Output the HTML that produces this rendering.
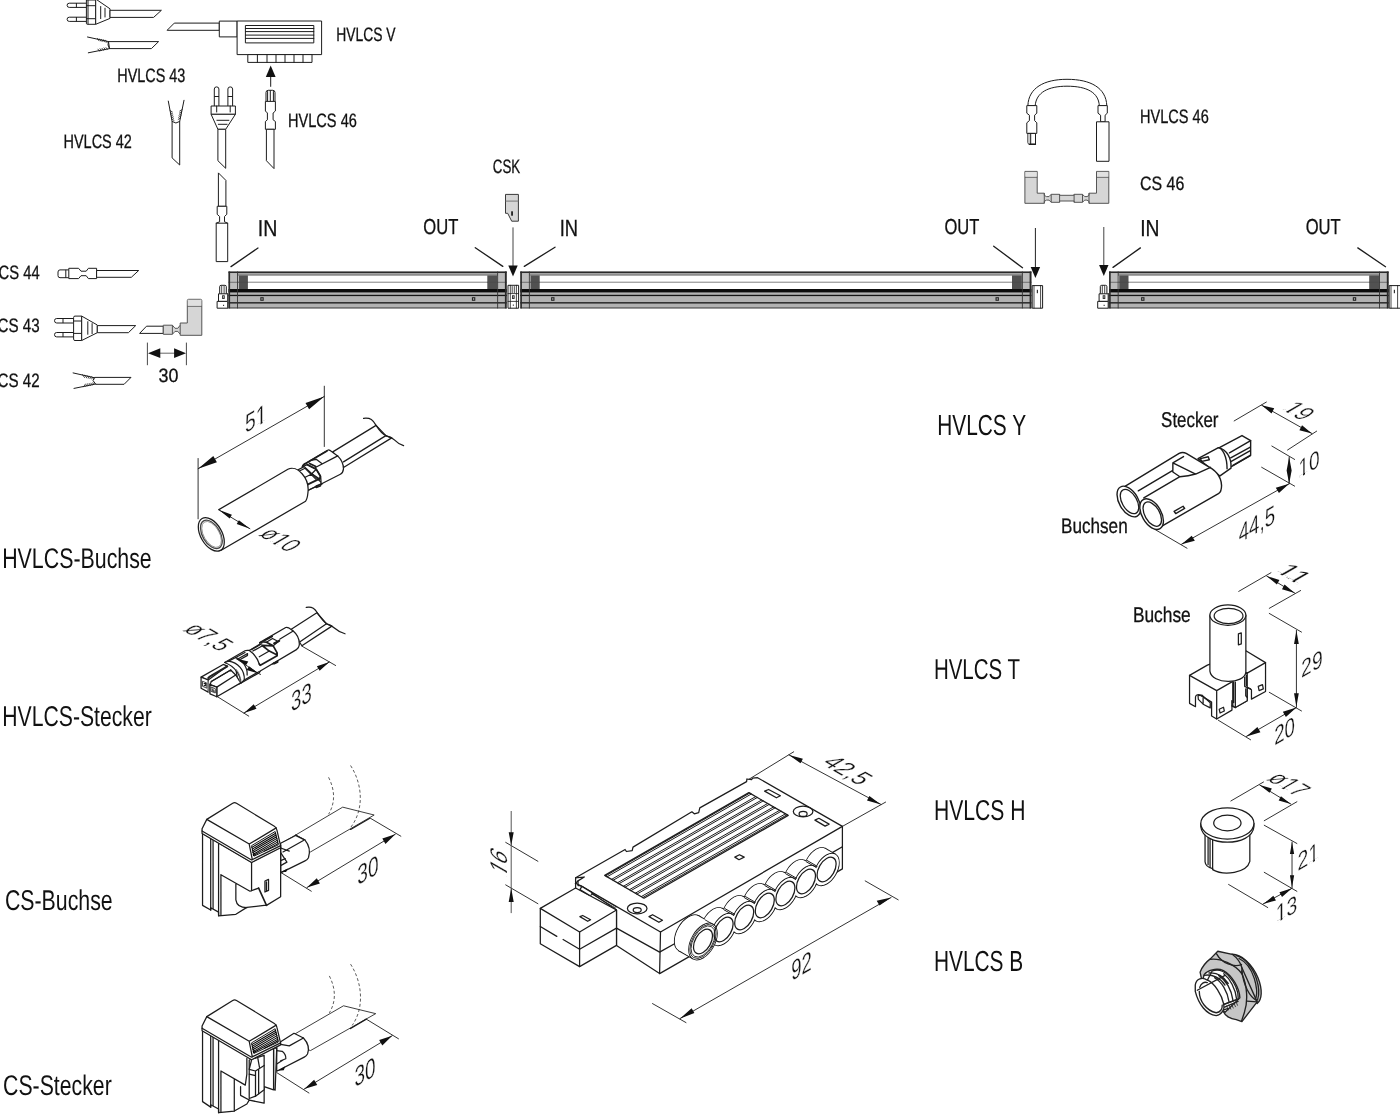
<!DOCTYPE html>
<html lang="de"><head><meta charset="utf-8"><title>HVLCS / CS Verbindungssystem</title>
<style>
html,body{margin:0;padding:0;background:#fff;}
body{width:1400px;height:1120px;overflow:hidden;font-family:"Liberation Sans",sans-serif;}
svg{display:block;filter:grayscale(1);}
.l{fill:none;stroke:#1c1c1c;stroke-width:1;stroke-linecap:round;stroke-linejoin:round;}
.w{fill:#fff;stroke:#1c1c1c;stroke-width:1;stroke-linejoin:round;}
.g{fill:#d6d6d6;stroke:#2a2a2a;stroke-width:1;stroke-linejoin:round;}
svg text{text-rendering:geometricPrecision;}
.t{font-family:"Liberation Sans",sans-serif;fill:#111;stroke:#111;stroke-width:.3;}
.tb{font-family:"Liberation Sans",sans-serif;fill:#111;}
.td{font-family:"Liberation Sans",sans-serif;fill:#111;stroke:#fff;stroke-width:.3;}
.k{fill:#111;stroke:none;}
#hvlcs-buchse .l,#hvlcs-buchse .w,#hvlcs-stecker .l,#hvlcs-stecker .w,#cs-buchse .l,#cs-buchse .w,#cs-stecker .l,#cs-stecker .w,#box .l,#box .w,#hvlcs-t .l,#hvlcs-t .w,#hvlcs-h .l,#hvlcs-h .w{stroke-width:1.25;}
#hvlcs-y .l,#hvlcs-y .w{stroke-width:1.4;}
.d{fill:none;stroke:#333;stroke-width:0.8;stroke-dasharray:3 2.2;}
</style></head><body>
<svg width="1400" height="1120" viewBox="0 0 1400 1120">
<g id="lum">
<rect x="228.5" y="271.5" width="278.2" height="36.89999999999998" fill="#b2b2b2"/>
<rect x="237.5" y="275.4" width="260.2" height="13.8" fill="#fff"/>
<rect x="228.5" y="271.5" width="278.2" height="1.6" fill="#2a2a2a"/>
<rect x="237.5" y="274.6" width="260.2" height="0.8" fill="#555"/>
<rect x="228.5" y="281.7" width="278.2" height="1.0" fill="#808080"/>
<rect x="228.5" y="289.0" width="278.2" height="3.4" fill="#0c0c0c"/>
<rect x="228.5" y="294.8" width="278.2" height="1.3" fill="#151515"/>
<rect x="228.5" y="302.2" width="278.2" height="1.3" fill="#151515"/>
<rect x="228.5" y="307.5" width="278.2" height="0.9" fill="#333"/>
<rect x="228.5" y="273.1" width="9.0" height="15.9" fill="#bcbcbc"/>
<rect x="228.5" y="281.8" width="9.0" height="0.9" fill="#666"/>
<rect x="497.7" y="273.1" width="9.0" height="15.9" fill="#bcbcbc"/>
<rect x="497.7" y="281.8" width="9.0" height="0.9" fill="#666"/>
<rect x="237.1" y="271.5" width="0.9" height="36.89999999999998" fill="#333"/>
<rect x="497.2" y="271.5" width="0.9" height="36.89999999999998" fill="#333"/>
<rect x="228.5" y="271.5" width="1.6" height="36.89999999999998" fill="#2a2a2a"/>
<rect x="504.9" y="271.5" width="1.8" height="36.89999999999998" fill="#2a2a2a"/>
<rect x="238.6" y="275.4" width="9.3" height="13.6" fill="#515151"/>
<rect x="487.3" y="275.4" width="9.9" height="13.6" fill="#515151"/>
<rect x="238.6" y="281.8" width="9.3" height="0.9" fill="#4a4a4a"/>
<rect x="487.3" y="281.8" width="9.3" height="0.9" fill="#4a4a4a"/>
<rect x="260.3" y="297.2" width="3.4" height="3.6" fill="#222"/>
<rect x="261.4" y="298.2" width="1.2" height="1.6" fill="#aaa"/>
<rect x="471.90000000000003" y="297.2" width="3.4" height="3.6" fill="#222"/>
<rect x="473.0" y="298.2" width="1.2" height="1.6" fill="#aaa"/>
<rect x="520.3" y="271.5" width="511.10000000000014" height="36.89999999999998" fill="#b2b2b2"/>
<rect x="529.3" y="275.4" width="493.10000000000014" height="13.8" fill="#fff"/>
<rect x="520.3" y="271.5" width="511.10000000000014" height="1.6" fill="#2a2a2a"/>
<rect x="529.3" y="274.6" width="493.10000000000014" height="0.8" fill="#555"/>
<rect x="520.3" y="281.7" width="511.10000000000014" height="1.0" fill="#808080"/>
<rect x="520.3" y="289.0" width="511.10000000000014" height="3.4" fill="#0c0c0c"/>
<rect x="520.3" y="294.8" width="511.10000000000014" height="1.3" fill="#151515"/>
<rect x="520.3" y="302.2" width="511.10000000000014" height="1.3" fill="#151515"/>
<rect x="520.3" y="307.5" width="511.10000000000014" height="0.9" fill="#333"/>
<rect x="520.3" y="273.1" width="9.0" height="15.9" fill="#bcbcbc"/>
<rect x="520.3" y="281.8" width="9.0" height="0.9" fill="#666"/>
<rect x="1022.4000000000001" y="273.1" width="9.0" height="15.9" fill="#bcbcbc"/>
<rect x="1022.4000000000001" y="281.8" width="9.0" height="0.9" fill="#666"/>
<rect x="528.9" y="271.5" width="0.9" height="36.89999999999998" fill="#333"/>
<rect x="1021.9000000000001" y="271.5" width="0.9" height="36.89999999999998" fill="#333"/>
<rect x="520.3" y="271.5" width="1.6" height="36.89999999999998" fill="#2a2a2a"/>
<rect x="1029.6000000000001" y="271.5" width="1.8" height="36.89999999999998" fill="#2a2a2a"/>
<rect x="530.4" y="275.4" width="9.3" height="13.6" fill="#515151"/>
<rect x="1012.0000000000001" y="275.4" width="9.9" height="13.6" fill="#515151"/>
<rect x="530.4" y="281.8" width="9.3" height="0.9" fill="#4a4a4a"/>
<rect x="1012.0000000000001" y="281.8" width="9.3" height="0.9" fill="#4a4a4a"/>
<rect x="551.0999999999999" y="297.2" width="3.4" height="3.6" fill="#222"/>
<rect x="552.1999999999999" y="298.2" width="1.2" height="1.6" fill="#aaa"/>
<rect x="995.5" y="297.2" width="3.4" height="3.6" fill="#222"/>
<rect x="996.6" y="298.2" width="1.2" height="1.6" fill="#aaa"/>
<rect x="1109.1" y="271.5" width="279.5" height="36.89999999999998" fill="#b2b2b2"/>
<rect x="1118.1" y="275.4" width="261.5" height="13.8" fill="#fff"/>
<rect x="1109.1" y="271.5" width="279.5" height="1.6" fill="#2a2a2a"/>
<rect x="1118.1" y="274.6" width="261.5" height="0.8" fill="#555"/>
<rect x="1109.1" y="281.7" width="279.5" height="1.0" fill="#808080"/>
<rect x="1109.1" y="289.0" width="279.5" height="3.4" fill="#0c0c0c"/>
<rect x="1109.1" y="294.8" width="279.5" height="1.3" fill="#151515"/>
<rect x="1109.1" y="302.2" width="279.5" height="1.3" fill="#151515"/>
<rect x="1109.1" y="307.5" width="279.5" height="0.9" fill="#333"/>
<rect x="1109.1" y="273.1" width="9.0" height="15.9" fill="#bcbcbc"/>
<rect x="1109.1" y="281.8" width="9.0" height="0.9" fill="#666"/>
<rect x="1379.6" y="273.1" width="9.0" height="15.9" fill="#bcbcbc"/>
<rect x="1379.6" y="281.8" width="9.0" height="0.9" fill="#666"/>
<rect x="1117.6999999999998" y="271.5" width="0.9" height="36.89999999999998" fill="#333"/>
<rect x="1379.1" y="271.5" width="0.9" height="36.89999999999998" fill="#333"/>
<rect x="1109.1" y="271.5" width="1.6" height="36.89999999999998" fill="#2a2a2a"/>
<rect x="1386.8" y="271.5" width="1.8" height="36.89999999999998" fill="#2a2a2a"/>
<rect x="1119.1999999999998" y="275.4" width="9.3" height="13.6" fill="#515151"/>
<rect x="1369.1999999999998" y="275.4" width="9.9" height="13.6" fill="#515151"/>
<rect x="1119.1999999999998" y="281.8" width="9.3" height="0.9" fill="#4a4a4a"/>
<rect x="1369.1999999999998" y="281.8" width="9.3" height="0.9" fill="#4a4a4a"/>
<rect x="1141.1" y="297.2" width="3.4" height="3.6" fill="#222"/>
<rect x="1142.2" y="298.2" width="1.2" height="1.6" fill="#aaa"/>
<rect x="1352.8" y="297.2" width="3.4" height="3.6" fill="#222"/>
<rect x="1353.9" y="298.2" width="1.2" height="1.6" fill="#aaa"/>
<path class="w" d="M219.70000000000002 293.8V286.6Q219.70000000000002 285.3 221.10000000000002 285.3H224.9Q226.3 285.3 226.3 286.6V293.8"/>
<path class="l" style="stroke-width:.8" d="M221.70000000000002 286V293.5M224.10000000000002 286V293.5"/>
<rect class="w" x="218.5" y="293.8" width="9.3" height="7.6"/>
<rect class="w" x="217.10000000000002" y="301.4" width="10.7" height="6.8"/>
<rect x="222.10000000000002" y="295.3" width="2.6" height="3.6" fill="#222"/><rect x="222.9" y="296.2" width="1" height="1.6" fill="#ccc"/>
<rect x="223.0" y="304.8" width="1.1" height="1.1" fill="#222"/>
<rect x="227.10000000000002" y="293" width="1.2" height="15.4" fill="#444"/>
<path class="w" d="M1100.3000000000002 293.8V286.6Q1100.3000000000002 285.3 1101.7 285.3H1105.5Q1106.9 285.3 1106.9 286.6V293.8"/>
<path class="l" style="stroke-width:.8" d="M1102.3000000000002 286V293.5M1104.7 286V293.5"/>
<rect class="w" x="1099.1000000000001" y="293.8" width="9.3" height="7.6"/>
<rect class="w" x="1097.7" y="301.4" width="10.7" height="6.8"/>
<rect x="1102.7" y="295.3" width="2.6" height="3.6" fill="#222"/><rect x="1103.5" y="296.2" width="1" height="1.6" fill="#ccc"/>
<rect x="1103.6000000000001" y="304.8" width="1.1" height="1.1" fill="#222"/>
<rect x="1107.7" y="293" width="1.2" height="15.4" fill="#444"/>
<rect class="w" x="508" y="285.3" width="10.6" height="22.9"/>
<path class="l" style="stroke-width:.8" d="M510.3 285.3V308M516.4 285.3V308M508 293.6H518.6M508 301.4H518.6M512.2 286.5V292.8M514.3 286.5V292.8"/>
<rect x="512" y="295.3" width="2.6" height="3.6" fill="#222"/><rect x="512.8" y="296.2" width="1" height="1.6" fill="#ccc"/>
<rect x="512.8" y="304.6" width="1.1" height="1.1" fill="#222"/>
<rect class="w" x="1032.2" y="285.6" width="10.399999999999864" height="22.6"/>
<path class="l" style="stroke-width:.8" d="M1034.0 285.6V308M1040.6000000000001 285.6V308"/>
<rect x="1036.8" y="289.8" width="1.2" height="3.4" fill="#333"/>
<rect class="w" x="1389.2" y="285.6" width="11.799999999999955" height="22.6"/>
<path class="l" style="stroke-width:.8" d="M1391.0 285.6V308M1397.6000000000001 285.6V308"/>
<rect x="1393.8" y="289.8" width="1.2" height="3.4" fill="#333"/>
<path d="M513 227.4V266.6" stroke="#444" stroke-width="1" fill="none"/><path class="k" d="M508.3 265.6H517.7L513 276.6Z"/>
<path d="M1035.4 228V268" stroke="#222" stroke-width="1" fill="none"/><path class="k" d="M1030.7 267H1040.1000000000001L1035.4 278Z"/>
<path d="M1103.8 227V266" stroke="#444" stroke-width="1" fill="none"/><path class="k" d="M1099.1 265H1108.5L1103.8 276Z"/>
<path class="l" style="stroke-width:1.3" d="M258 248L231 266.6M475.3 247.7L502.8 266.4M555 247.2L524.3 266.4M993.7 246.2L1022.5 267.7M1140.4 247.9L1113 267.4M1357.8 247.9L1385.5 266.7"/>
</g>
<g id="topleft">
<!-- HVLCS 43 horizontal plug -->
<path class="w" d="M86.4 3.2H69.3Q67.1 3.2 67.1 5.3Q67.1 7.4 69.3 7.4H86.4M86.4 17.2H69.3Q67.1 17.2 67.1 19.3Q67.1 21.4 69.3 21.4H86.4"/>
<path class="l" d="M76.4 3.4V7.2M76.4 17.4V21.2"/>
<path class="w" d="M87.4 0H95.7V24.3H87.4Q86.4 24.3 86.4 23.3V0Z"/>
<path class="l" d="M88 0V24M86.4 5.7H95.7M86.4 18.7H95.7"/>
<path class="w" d="M95.7 -1L110 8.8V18.4L95.7 24.3Z"/>
<path class="l" d="M100.7 6.5V18.6M105 8.2V17"/>
<path class="w" d="M110 10.3H161.4L153.6 17.4H110Z"/>
<!-- stripped wire HVLCS 43 -->
<path class="w" d="M108.5 41.6H158.6L151.4 48.6H109.5L108 45Z"/>
<path class="l" d="M108.5 41.6L87.5 37M109.5 48.6L88.3 52.8M108.5 41.6L109.5 48.6"/>
<path class="l" style="stroke-width:.8" d="M101.5 39.3L103 41.6M99.5 38.9L101 41.2M97.5 38.5L99 40.8M103.5 39.7L105 42M105.5 40.2L107 42.6M102 48.3L103.5 50.3M100 48.7L101.5 50.7M98 49.2L99.5 51.2M104 47.9L105.5 49.8M106 47.6L107.5 49.4"/>
<!-- HVLCS V box -->
<path class="w" d="M174.3 23.1H219.3V30.3H167.1Z"/>
<rect class="w" x="219.3" y="21.1" width="17.8" height="15.8"/>
<rect class="w" x="237.1" y="21" width="84.5" height="33.6"/>
<rect class="w" x="245.4" y="25.5" width="68.4" height="17.4"/>
<path class="l" d="M245.4 28.5H313.8M245.4 31.6H313.8M245.4 35.1H313.8M245.4 38.4H313.8"/>
<rect class="w" x="247.8" y="54.6" width="64.2" height="7.8"/>
<path class="l" d="M257.4 54.6V62.4M267 54.6V62.4M276 54.6V62.4M285 54.6V62.4M294 54.6V62.4M303 54.6V62.4"/>
<!-- arrow up -->
<path class="l" d="M270.7 76V86.4"/>
<path class="k" d="M270.7 65.4L275.6 76.9H265.8Z"/>
<!-- HVLCS 42 vertical stripped wire -->
<path class="w" d="M172.1 121.4L175.9 123L179.7 121.4V165L172.1 157.9Z"/>
<path class="l" d="M172.1 121.4L168.3 101.1M179.7 121.4L184 100.3"/>
<path class="l" style="stroke-width:.8" d="M170 110.5L172.4 112M170.4 112.6L172.8 114.1M170.8 114.7L173.2 116.2M171.2 116.8L173.6 118.3M171.6 118.9L174 120.4M182.2 109.5L179.8 111M181.8 111.6L179.4 113.1M181.4 113.7L179 115.2M181 115.8L178.6 117.3M180.6 117.9L178.2 119.4"/>
<!-- vertical plug -->
<path class="w" d="M214.3 106V89Q214.3 86.9 216.6 86.9Q218.9 86.9 218.9 89V106M227.9 106V89Q227.9 86.9 230.2 86.9Q232.6 86.9 232.6 89V106"/>
<path class="l" d="M214.6 96.5H218.6M228.2 96.5H232.3"/>
<rect class="w" x="211.1" y="106" width="24.3" height="8.3"/>
<path class="l" d="M216.7 106V112M230.2 106V112"/>
<path class="w" d="M211.1 114.3H235.4L225.7 129.3H217.9Z"/>
<path class="l" d="M216.9 120.3H228.9M218.3 124.3H227.1"/>
<path class="w" d="M217.9 129.3H225.7V168.3L217.9 160.7Z"/>
<!-- lower cable + socket -->
<path class="w" d="M218.4 172.9L225.9 180.4V206.3H218.4Z"/>
<path class="w" d="M217.2 206.3H226.8V214.3L224.5 216.5V221.8L227.7 223.2V261.6H216.2V223.2L219.6 221.8V216.5L217.2 214.3Z"/>
<path class="l" d="M216.2 223.2H227.7"/>
<!-- HVLCS 46 vertical connector -->
<path class="w" d="M266 101.4V92.5Q266 90.3 268.2 90.3H272.8Q275 90.3 275 92.5V101.4"/>
<path class="l" d="M267.6 91.5V101M270.3 90.8V101M273.4 91.5V101"/>
<path class="w" d="M265.4 101.4H275.4V111L273.1 113V119.8L275.4 121.5V129.3H265.4V121.5L267.4 119.8V113L265.4 111Z"/>
<path class="w" d="M266.4 129.3H274V168.6L266.4 160.7Z"/>
<!-- CS 44 -->
<path class="w" d="M68.8 269.9H60Q58 269.9 58 272V275.6Q58 277.7 60 277.7H68.8"/>
<path class="l" d="M65.8 270.2V277.4"/>
<path class="w" d="M68.8 268.3H78.6L81 271.2H86.2L88.4 268.3H96.6V278.6H88.4L86.2 275.7H81L78.6 278.6H68.8Z"/>
<path class="w" d="M96.6 270.5H138.7L131.3 277.3H96.6Z"/>
<!-- CS 43 plug -->
<path class="w" d="M73.6 318.5H56.7Q54.5 318.5 54.5 320.7Q54.5 323 56.7 323H73.6M73.6 332.5H56.7Q54.5 332.5 54.5 334.7Q54.5 336.9 56.7 336.9H73.6"/>
<path class="l" d="M63 318.8V322.7M63 332.8V336.6"/>
<path class="w" d="M75 316.1H81.7V340.5H75Q73.6 340.5 73.6 339.2V317.4Q73.6 316.1 75 316.1Z"/>
<path class="l" d="M73.6 321H81.7M73.6 333.4H81.7"/>
<path class="w" d="M81.7 316.1L97.3 325V332.7L81.7 340.5Z"/>
<path class="l" d="M87.8 321.7V334.3M92.1 323.6V333.7"/>
<path class="w" d="M97.3 325.6H135.7L128.4 332.7H97.3Z"/>
<!-- CS elbow -->
<path class="w" d="M146.5 326.2H163.3V333.4H139.6Z"/>
<path class="g" d="M163.3 325.2H172.4L175 328.3H177.8L180.2 325.2V323H187.3V300.6Q187.3 299.3 188.6 299.3H200.5Q201.8 299.3 201.8 300.6V335.3H180.2V334.3L177.8 331.4H175L172.4 334.3H163.3Z" style="stroke:#555"/>
<path d="M187.3 306.2H201.8M172.4 325.2V334.3M180.2 325.2V334.3" stroke="#555" fill="none"/>
<rect x="187.8" y="299.8" width="13.5" height="6" fill="#e0e0e0"/>
<!-- 30 dim -->
<path class="l" style="stroke-width:.8" d="M147.4 343V364.8M186.4 343V364.8"/>
<path d="M158 353.2H176" stroke="#666" fill="none"/>
<path class="k" d="M148 353.2L160.3 348.3V358.1ZM186 353.2L174.1 348.3V358.1Z"/>
<!-- CS 42 -->
<path class="w" d="M94.7 377.4H131L124.1 384.3H95.7L93 380.5Z"/>
<path class="l" d="M94.7 377.8L73.1 372.9M95.7 384L74 388.4"/>
<path class="l" style="stroke-width:.8" d="M82.5 374.6L84.5 377.5M84.8 375.1L86.8 378M87.1 375.6L89.1 378.5M89.4 376.1L91.4 379M91.7 376.6L93.7 379.4M83.5 386.9L85.5 384M85.8 386.4L87.8 383.6M88.1 386L90.1 383.2M90.4 385.5L92.4 382.8M92.7 385L94.4 382.6"/>
</g>

<g id="topright">
<!-- HVLCS 46 loop cable -->
<path class="w" d="M1027.9 105.6C1028.5 88 1044 79.3 1067 79.3C1091 79.3 1106 88 1106.8 105.6H1099.3C1098.5 92.5 1087 86.2 1067 86.2C1048 86.2 1036.3 92.5 1035.2 105.6Z"/>
<path class="w" d="M1026.8 105.6H1036.8V113.2L1034.6 115.2V120.6L1036.8 122.8V133.4H1026.8V122.8L1029.4 120.6V115.2L1026.8 113.2Z"/>
<path class="w" d="M1027.9 133.4H1035.5V144.4H1029.9Q1027.9 144.4 1027.9 142.4Z"/>
<path d="M1028.4 133.9H1030.7V143.9H1029.9Q1028.4 143.9 1028.4 142.4Z" fill="#ccc"/>
<path class="l" d="M1030.7 133.4V144.4"/>
<path class="l" style="stroke-width:1.6" d="M1029.5 144.3H1035.3"/>
<path class="w" d="M1098 105.6H1107.3V113.2L1105.1 115.2V121.8H1100.6V115.2L1098 113.2Z"/>
<rect class="w" x="1096.5" y="121.8" width="12.5" height="39.5"/>
<!-- CS 46 -->
<path class="g" style="stroke:#555" d="M1024.9 171.4H1037.2V193.2H1044.3V195.4L1046.5 196.6H1049L1051.2 194.3H1059.6V195.3H1074.1V194.3H1082.5L1084.7 196.6H1087L1089 195.4V193.2H1096.5V171.4H1108.8V203.3H1089V201.4L1087 200.1H1084.7L1082.5 202.3H1074.1V201H1059.6V202.3H1051.2L1049 200.1H1046.5L1044.3 201.4V203.3H1024.9Z"/>
<path d="M1024.9 177.2H1037.2M1096.5 177.2H1108.8M1044.3 193.2V203.3M1051.2 194.3V202.3M1059.6 194.3V202.3M1074.1 194.3V202.3M1082.5 194.3V202.3M1089 193.2V203.3" stroke="#555" fill="none"/>
<rect x="1025.4" y="171.9" width="11.3" height="4.8" fill="#e2e2e2"/>
<rect x="1097" y="171.9" width="11.3" height="4.8" fill="#e2e2e2"/>
</g>

<g id="csk">
<path d="M505.5 194.4H518.4V221.2H511.7L507.7 213.3H505.5Z" fill="#d6d6d6" stroke="#3a3a3a" stroke-width="1" stroke-linejoin="round"/>
<path d="M505.5 201.1H518.4" stroke="#777" stroke-width="1" fill="none"/>
<rect x="511.2" y="211.3" width="1.7" height="4.4" fill="#151515"/>
</g>

<g id="hvlcs-buchse">
<!-- cable (behind) -->
<g transform="translate(285 405) scale(0.0892857)" style="vector-effect:non-scaling-stroke">
<path class="w" vector-effect="non-scaling-stroke" d="M535 525L1020 228L1130 343L1195 368L660 697Z"/>
<path class="l" vector-effect="non-scaling-stroke" d="M655 637L1130 343"/>
<path class="l" vector-effect="non-scaling-stroke" d="M880 150C960 140 985 170 1020 228C1060 290 1100 335 1140 348C1190 360 1200 365 1225 390C1260 425 1290 445 1328 456"/>
<!-- neck between cylinder and collar -->
<path class="w" vector-effect="non-scaling-stroke" d="M120 740L215 690L420 880L250 960Z"/>
<path class="l" vector-effect="non-scaling-stroke" d="M150 745L225 708M215 815L305 770M225 708L345 830"/>
<path class="l" vector-effect="non-scaling-stroke" style="stroke-width:1.8" d="M240 897L390 825"/>
<path class="l" vector-effect="non-scaling-stroke" d="M255 957L400 885V905L350 925Q335 915 350 905L400 885"/>
<!-- collar -->
<path class="w" vector-effect="non-scaling-stroke" d="M195 692C200 672 215 660 240 650L478 507Q490 500 502 508L590 570C630 610 655 660 655 715Q650 760 620 775L405 885L400 800L350 720L250 668Z"/>
<path class="l" vector-effect="non-scaling-stroke" d="M590 570L340 700M350 608L412 655M290 620L350 608"/>
<path class="l" vector-effect="non-scaling-stroke" style="stroke-width:1.7" d="M195 692C200 672 215 660 240 650L470 515M250 668L350 720L395 795L390 828M275 655L345 690"/>
<path class="l" vector-effect="non-scaling-stroke" d="M300 770L385 825M350 720L300 770"/>
</g>
<!-- cylinder -->
<path d="M218.9 509.6L287.9 469.3C297 464.5 310 478 307.9 493C307.5 497 306.8 499.6 305.6 501.2L221.2 550.3L205 540Z" fill="#fff"/>
<path class="l" d="M218.9 509.6L287.9 469.3C297 464.5 310 478 307.9 493C307.5 497 306.8 499.6 305.6 501.2L221.2 550.3"/>
<ellipse class="w" cx="211.3" cy="534.4" rx="10.6" ry="18.4" transform="rotate(-30 211.3 534.4)"/>
<ellipse class="l" cx="211.4" cy="534.4" rx="8.8" ry="15.6" transform="rotate(-30 211.4 534.4)" style="stroke-width:1.3;stroke:#444"/>
<ellipse class="l" cx="211.6" cy="534.4" rx="7.8" ry="14.3" transform="rotate(-30 211.6 534.4)" style="stroke-width:.7;stroke:#777"/>
<!-- dims -->
<path class="l" style="stroke-width:.9" d="M198.1 458.5V518.8M324.3 386.2V446.5M198.1 468.7L324.3 396.4"/>
<path class="k" d="M198.1 468.7L213.3 455.9L216.9 462.2ZM324.3 396.4L305.5 402.9L309.1 409.2Z"/>
<path class="l" style="stroke-width:.9" d="M218.7 509.8L249.9 528.7"/>
<path class="k" d="M218.7 509.8L231.9 514.7L229.7 518.4ZM249.9 528.7L236.7 523.9L238.9 520.2Z"/>
</g>

<g id="hvlcs-stecker">
<g transform="translate(180 598) scale(0.125)">
<!-- cable -->
<path class="w" vector-effect="non-scaling-stroke" d="M890 250L1095 118L1172 206L1215 225L975 382Z"/>
<path class="l" vector-effect="non-scaling-stroke" d="M960 350L1172 206"/>
<path class="l" vector-effect="non-scaling-stroke" d="M1010 75C1060 65 1080 90 1100 120C1130 165 1150 195 1175 207C1200 215 1215 222 1235 240C1260 262 1290 278 1320 286"/>
</g>
<g transform="translate(195 625) scale(0.0714286)">
<!-- main body silhouette (white fill) -->
<path class="w" vector-effect="non-scaling-stroke" d="M415 525L700 360Q720 350 760 356L910 268L905 247L1270 35Q1290 28 1310 40L1375 85C1440 140 1465 200 1460 280Q1455 325 1420 345L920 640L900 668L640 815L610 830L560 560Z"/>
<!-- pins -->
<path class="w" vector-effect="non-scaling-stroke" d="M85 730L395 552L455 575L185 770Z"/>
<path class="w" vector-effect="non-scaling-stroke" d="M85 730L185 770V940L85 885Z"/>
<path class="l" vector-effect="non-scaling-stroke" style="stroke-width:.8" d="M110 790L165 812V885L110 860Z"/>
<path class="l" vector-effect="non-scaling-stroke" style="stroke-width:1.2" d="M128 820H150V850H128"/>
<path d="M185 770L210 835V965L185 940Z" fill="#888"/>
<path class="w" vector-effect="non-scaling-stroke" d="M210 835L228 790L500 630L570 700L640 810L305 1005V870Z"/>
<path class="w" vector-effect="non-scaling-stroke" d="M210 835L305 870V1005L210 965Z"/>
<path class="l" vector-effect="non-scaling-stroke" style="stroke-width:.8" d="M230 870L285 892V952L230 930Z"/>
<path class="l" vector-effect="non-scaling-stroke" style="stroke-width:1.2" d="M250 895V925H270"/>
<path class="l" vector-effect="non-scaling-stroke" d="M305 870L570 700M228 790L500 630V645"/>
<path class="l" vector-effect="non-scaling-stroke" style="stroke-width:2;stroke:#222" d="M185 745Q200 725 230 710L452 580"/>
<!-- flange arcs -->
<path class="w" vector-effect="non-scaling-stroke" d="M415 525L470 505C600 520 700 640 690 770L640 815C640 700 560 580 415 525Z"/>
<path class="l" vector-effect="non-scaling-stroke" d="M470 505L570 455C660 480 740 600 730 700"/>
<path class="l" vector-effect="non-scaling-stroke" style="stroke:#666;stroke-width:.8" d="M575 620C620 670 640 730 630 790M615 775L630 795L645 770"/>
<!-- top body lines -->
<path class="l" vector-effect="non-scaling-stroke" d="M570 455L700 385M600 475L735 400V425L640 480M690 770L900 650"/>
<!-- neck -->
<path class="l" vector-effect="non-scaling-stroke" d="M760 356C830 400 880 480 905 560M790 345L935 262M810 365L945 290M900 445L1040 365"/>
<!-- latch bold -->
<path class="l" vector-effect="non-scaling-stroke" style="stroke-width:1.7" d="M910 250C930 235 960 232 1000 242L1095 292L1150 390V430L915 565L900 545M940 285L1095 292M945 290L1040 365L1150 420"/>
<!-- collar window -->
<path class="l" vector-effect="non-scaling-stroke" d="M1000 242L1085 190L1165 232L1095 292M1100 255L1185 210M1375 85L1190 195"/>
<path class="l" vector-effect="non-scaling-stroke" style="stroke-width:1.8" d="M975 215L1080 160M1110 262L1180 222"/>
<!-- bottom notch -->
<path class="l" vector-effect="non-scaling-stroke" d="M1085 545L1160 500V520L1110 545Q1090 545 1100 530"/>
</g>
<!-- dims -->
<g transform="translate(180 598) scale(0.125)">
<path class="l" vector-effect="non-scaling-stroke" style="stroke-width:.9" d="M975 385L1245 540M300 790L550 945M512 920L1195 512"/>
<path class="k" d="M512 920L590 850L612 886ZM1195 512L1095 545L1117 581Z"/>
</g>
<path class="l" style="stroke-width:.9" d="M236.1 658.6L258.6 673.6L260.6 674.4"/>
<path class="k" d="M236.1 658.6L248.3 661.4L246 665.2ZM258.6 673.6L246.6 670.1L249 666.3Z"/>
</g>

<g id="cs-buchse" transform="translate(195 760) scale(0.157143)">
<!-- ribbon cable -->
<path class="w" vector-effect="non-scaling-stroke" style="stroke-width:.85" d="M560 525L940 300L1140 350L735 585Z"/>
<path class="l" vector-effect="non-scaling-stroke" d="M640 478L700 510M1110 372L990 442"/>
<!-- dashed arcs -->
<path class="d" vector-effect="non-scaling-stroke" d="M850 110C890 190 895 270 850 345M990 35C1070 160 1075 320 990 430"/>
<!-- plug block -->
<path class="w" vector-effect="non-scaling-stroke" d="M545 530L640 480L700 510C725 540 735 580 722 622Q715 635 700 642L545 718Z"/>
<path class="l" vector-effect="non-scaling-stroke" d="M545 560L600 580M560 585L690 512M545 590L585 650L545 672M545 640L575 628"/>
<!-- housing body -->
<path class="w" vector-effect="non-scaling-stroke" d="M48 468V925L100 955V940L150 968V992L260 982L330 938L440 925L455 925L545 870V555L360 650Z"/>
<path class="l" vector-effect="non-scaling-stroke" d="M100 500V955M115 510V945M150 528V990M360 650V832"/>
<path class="l" vector-effect="non-scaling-stroke" d="M165 730V988M165 730L350 835L405 815M260 790V890C265 925 295 940 330 940"/>
<path class="l" vector-effect="non-scaling-stroke" style="stroke-width:1.6" d="M405 815L455 925"/>
<path class="l" vector-effect="non-scaling-stroke" d="M445 770L468 760V830L445 840ZM455 775V832"/>
<!-- cap -->
<path class="w" vector-effect="non-scaling-stroke" d="M45 438L75 378L240 275Q252 268 264 275L505 422Q518 430 521 445L545 548V558L360 652L45 468Z"/>
<path class="l" vector-effect="non-scaling-stroke" d="M75 378L345 535L517 432M345 535L365 635M45 452L360 636L545 545"/>
<!-- grille -->
<path vector-effect="non-scaling-stroke" d="M360 545L510 455L530 540L375 612Z" fill="#fff" stroke="#1c1c1c" stroke-width="1"/>
<path class="l" vector-effect="non-scaling-stroke" style="stroke-width:1.05;stroke:#000" d="M362 556L513 466M364 567L516 477M366 578L519 488M368 589L522 499M370 600L525 510M372 608L528 521M440 580L529 532"/>
<!-- dim -->
<path class="l" vector-effect="non-scaling-stroke" style="stroke-width:.9" d="M545 715L740 835M1115 370L1310 485M712 812L1275 472"/>
<path class="k" d="M712 812L775 752L795 786ZM1275 472L1192 500L1212 534Z"/>
<path class="k" d="M545 712L590 690L580 712Z"/>
</g>

<g id="cs-stecker" transform="translate(195 950) scale(0.157143)">
<!-- ribbon cable -->
<path class="w" vector-effect="non-scaling-stroke" style="stroke-width:.85" d="M560 578L945 355L1150 405L735 640Z"/>
<path class="l" vector-effect="non-scaling-stroke" d="M1090 440L990 500"/>
<!-- dashed arcs -->
<path class="d" vector-effect="non-scaling-stroke" d="M855 165C895 245 900 325 855 400M990 90C1070 215 1075 375 1000 480"/>
<!-- plug block -->
<path class="w" vector-effect="non-scaling-stroke" d="M520 600L630 530L690 560C718 590 728 630 716 662Q708 675 695 682L520 772Z"/>
<path class="l" vector-effect="non-scaling-stroke" d="M545 600L600 610L690 560M520 640L555 645Q580 665 578 692L545 705M520 725L560 700"/>
<!-- right fin -->
<path class="w" vector-effect="non-scaling-stroke" d="M500 625V885L510 892L520 625Z"/>
<!-- housing body -->
<path class="w" vector-effect="non-scaling-stroke" d="M48 512V965L100 1000V985L150 1012V1035L250 1025L330 980L345 955L440 975V870L500 890V625L360 690Z"/>
<path class="l" vector-effect="non-scaling-stroke" d="M100 545V1000M115 555V990M150 575V1035"/>
<path class="l" vector-effect="non-scaling-stroke" d="M165 770V1030M165 770L320 860L330 790V690M250 820V1025M290 870V925L345 955"/>
<!-- center plug -->
<path class="w" vector-effect="non-scaling-stroke" d="M345 700L440 670V890L385 930L345 945Z"/>
<path class="l" vector-effect="non-scaling-stroke" d="M345 760L385 770L440 735M385 770V930M405 760V915M345 790L385 800M400 690L410 745M360 700L345 760"/>
<!-- cap -->
<path class="w" vector-effect="non-scaling-stroke" d="M45 484L75 424L240 321Q252 314 264 321L505 468Q518 476 521 491L545 594V604L360 698L45 514Z"/>
<path class="l" vector-effect="non-scaling-stroke" d="M75 424L345 581L517 478M345 581L365 681M45 498L360 682L545 591"/>
<!-- grille -->
<path vector-effect="non-scaling-stroke" d="M360 591L510 501L530 586L375 658Z" fill="#fff" stroke="#1c1c1c" stroke-width="1"/>
<path class="l" vector-effect="non-scaling-stroke" style="stroke-width:1.05;stroke:#000" d="M362 602L513 512M364 613L516 523M366 624L519 534M368 635L522 545M370 646L525 556M372 654L528 567M440 626L529 578"/>
<!-- dim -->
<path class="l" vector-effect="non-scaling-stroke" style="stroke-width:.9" d="M520 780L725 910M1090 440L1295 565M695 885L1255 545"/>
<path class="k" d="M695 885L758 825L778 859ZM1255 545L1172 573L1192 607Z"/>
<path class="k" d="M525 768L575 740L565 765Z"/>
</g>

<g id="box">
<path class="w"  d="M575.6 877.8L625.1 849.5 626.4 851.5 632.2 850.6 633.0 847.1 691.9 811.8 694.3 813.8 698.7 812.6 699.8 807.9 746.6 781.6 746.9 779.0 751.6 779.6 752.5 778.2 757.6 777.7 842.4 826.4 842.4 868.9 659.6 973.6 616.5 945.4 616.5 910.0 580.4 885.6 575.6 883.3Z"/>
<path class="l"  d="M580.4 885.6L660.5 932.0 842.4 826.4"/>
<path class="l"  d="M660.5 932.0L659.6 973.6"/>
<path class="l"  d="M616.5 928.1L659.6 952.1 676.8 942.5"/>
<path class="l"  d="M842.4 846.8L831.4 853.1"/>
<path class="w"  d="M540.3 908.4L575.6 888.0 616.5 910.0 616.5 945.4 579.6 966.6 540.3 943.8Z"/>
<path class="l"  d="M540.3 908.4L579.6 932.0 616.5 910.0"/>
<path class="l"  d="M579.6 932.0L579.6 966.6"/>
<path class="l"  d="M540.3 926.5L556.8 936.4"/>
<path class="l"  d="M563.1 939.5L579.6 949.3 616.5 928.1"/>
<path class="l"  d="M579.9 916.6L582.7 915.5 590.6 919.7 587.7 921.3Z"/>
<path class="l"  d="M575.6 877.8L584.3 877.0 578.0 880.9 575.6 883.3"/>
<path class="l"  d="M575.6 883.3L575.6 888.0"/>
<path class="l"  d="M578.0 880.9L578.0 885.6 580.4 885.6"/>
<path class="w" d="M581.9 886.4L591.8 892.4Q592.9 895.1 589.8 895.5L579.9 889.6Z"/>
<path class="l" style="stroke-width:.8" d="M591.8 894.0L615.7 908.1"/>
<path class="l" style="stroke-width:.8" d="M591.8 892.4L616.5 906.9"/>
<path class="w"  d="M604.7 875.4L748.9 792.6 788.2 815.4 644.0 898.2Z"/>
<path class="l" style="stroke-width:1" d="M605.6 875.9L749.8 793.1"/>
<path class="l" style="stroke-width:1" d="M607.1 876.8L751.3 794.0"/>
<path class="l" style="stroke-width:1" d="M611.5 879.4L755.7 796.6"/>
<path class="l" style="stroke-width:1" d="M613.1 880.3L757.3 797.5"/>
<path class="l" style="stroke-width:1" d="M617.5 882.8L761.7 800.0"/>
<path class="l" style="stroke-width:1" d="M619.0 883.7L763.2 800.9"/>
<path class="l" style="stroke-width:1" d="M623.4 886.3L767.6 803.5"/>
<path class="l" style="stroke-width:1" d="M625.0 887.2L769.2 804.4"/>
<path class="l" style="stroke-width:1" d="M629.4 889.7L773.6 806.9"/>
<path class="l" style="stroke-width:1" d="M631.0 890.6L775.2 807.8"/>
<path class="l" style="stroke-width:1" d="M635.3 893.2L779.5 810.4"/>
<path class="l" style="stroke-width:1" d="M636.9 894.1L781.1 811.3"/>
<path class="l" style="stroke-width:1" d="M641.3 896.6L785.5 813.8"/>
<path class="l" style="stroke-width:1" d="M642.9 897.5L787.1 814.7"/>
<ellipse class="l" cx="637.2" cy="908.4" rx="9.8" ry="5.4" />
<ellipse class="l" cx="637.2" cy="910.0" rx="4" ry="2.5" />
<ellipse class="l" cx="803.1" cy="811.5" rx="9.8" ry="5.4" />
<ellipse class="l" cx="803.1" cy="813.9" rx="4" ry="2.5" />
<path class="l"  d="M649.0 916.6L652.6 914.7 662.5 920.2 658.9 922.3Z"/>
<path class="l"  d="M764.6 791.1L768.6 789.5 780.4 795.8 776.4 797.8Z"/>
<path class="l"  d="M814.9 820.1L818.9 818.3 829.1 824.1 825.1 826.1Z"/>
<path class="l"  d="M734.8 857.1L739.5 854.7 744.2 857.1 739.0 859.7Z"/>
<ellipse class="l" cx="816.4" cy="863.6" rx="10.3" ry="17.5"  transform="rotate(30 816.4 863.6)"/><path class="l"  d="M825.1 848.4L835.3 854.3"/><path class="l"  d="M807.6 878.8L817.8 884.7"/>
<ellipse class="l" cx="795.8" cy="875.6" rx="10.3" ry="17.5"  transform="rotate(30 795.8 875.6)"/><path class="l"  d="M804.5 860.4L814.7 866.3"/><path class="l"  d="M787.0 890.8L797.2 896.7"/>
<ellipse class="l" cx="775.2" cy="887.6" rx="10.3" ry="17.5"  transform="rotate(30 775.2 887.6)"/><path class="l"  d="M783.9 872.4L794.1 878.3"/><path class="l"  d="M766.4 902.8L776.6 908.7"/>
<ellipse class="l" cx="754.6" cy="899.6" rx="10.3" ry="17.5"  transform="rotate(30 754.6 899.6)"/><path class="l"  d="M763.3 884.4L773.5 890.3"/><path class="l"  d="M745.8 914.8L756.0 920.7"/>
<ellipse class="l" cx="734.0" cy="911.6" rx="10.3" ry="17.5"  transform="rotate(30 734.0 911.6)"/><path class="l"  d="M742.7 896.4L752.9 902.3"/><path class="l"  d="M725.2 926.8L735.4 932.7"/>
<ellipse class="l" cx="713.4" cy="923.6" rx="10.3" ry="17.5"  transform="rotate(30 713.4 923.6)"/><path class="l"  d="M722.1 908.4L732.3 914.3"/><path class="l"  d="M704.6 938.8L714.8 944.7"/>
<ellipse class="l" cx="688.7" cy="933.2" rx="11.6" ry="20.0"  transform="rotate(30 688.7 933.2)"/><path class="l"  d="M698.7 915.9L713.0 924.2"/><path class="l"  d="M678.7 950.6L693.0 958.8"/>
<ellipse cx="816.4" cy="863.6" rx="10.00" ry="17.20" fill="#fff" transform="rotate(30 816.4 863.6)"/><path d="M825.0 848.7L835.2 854.6 818.0 884.4 807.8 878.5Z" fill="#fff"/>
<ellipse cx="795.8" cy="875.6" rx="10.00" ry="17.20" fill="#fff" transform="rotate(30 795.8 875.6)"/><path d="M804.4 860.7L814.6 866.6 797.4 896.4 787.2 890.5Z" fill="#fff"/>
<ellipse cx="775.2" cy="887.6" rx="10.00" ry="17.20" fill="#fff" transform="rotate(30 775.2 887.6)"/><path d="M783.8 872.7L794.0 878.6 776.8 908.4 766.6 902.5Z" fill="#fff"/>
<ellipse cx="754.6" cy="899.6" rx="10.00" ry="17.20" fill="#fff" transform="rotate(30 754.6 899.6)"/><path d="M763.2 884.7L773.4 890.6 756.2 920.4 746.0 914.5Z" fill="#fff"/>
<ellipse cx="734.0" cy="911.6" rx="10.00" ry="17.20" fill="#fff" transform="rotate(30 734.0 911.6)"/><path d="M742.6 896.7L752.8 902.6 735.6 932.4 725.4 926.5Z" fill="#fff"/>
<ellipse cx="713.4" cy="923.6" rx="10.00" ry="17.20" fill="#fff" transform="rotate(30 713.4 923.6)"/><path d="M722.0 908.7L732.2 914.6 715.0 944.4 704.8 938.5Z" fill="#fff"/>
<ellipse cx="688.7" cy="933.2" rx="11.30" ry="19.70" fill="#fff" transform="rotate(30 688.7 933.2)"/><path d="M698.6 916.2L712.9 924.4 693.1 958.6 678.9 950.3Z" fill="#fff"/>
<ellipse class="l" cx="826.6" cy="869.5" rx="10.3" ry="17.5"  transform="rotate(30 826.6 869.5)"/>
<ellipse class="l" cx="806.0" cy="881.5" rx="10.3" ry="17.5"  transform="rotate(30 806.0 881.5)"/>
<ellipse class="l" cx="785.4" cy="893.5" rx="10.3" ry="17.5"  transform="rotate(30 785.4 893.5)"/>
<ellipse class="l" cx="764.8" cy="905.5" rx="10.3" ry="17.5"  transform="rotate(30 764.8 905.5)"/>
<ellipse class="l" cx="744.2" cy="917.5" rx="10.3" ry="17.5"  transform="rotate(30 744.2 917.5)"/>
<ellipse class="l" cx="723.6" cy="929.5" rx="10.3" ry="17.5"  transform="rotate(30 723.6 929.5)"/>
<ellipse cx="826.6" cy="869.5" rx="10.00" ry="17.20" fill="#fff" transform="rotate(30 826.6 869.5)"/>
<ellipse cx="806.0" cy="881.5" rx="10.00" ry="17.20" fill="#fff" transform="rotate(30 806.0 881.5)"/>
<ellipse cx="785.4" cy="893.5" rx="10.00" ry="17.20" fill="#fff" transform="rotate(30 785.4 893.5)"/>
<ellipse cx="764.8" cy="905.5" rx="10.00" ry="17.20" fill="#fff" transform="rotate(30 764.8 905.5)"/>
<ellipse cx="744.2" cy="917.5" rx="10.00" ry="17.20" fill="#fff" transform="rotate(30 744.2 917.5)"/>
<ellipse cx="723.6" cy="929.5" rx="10.00" ry="17.20" fill="#fff" transform="rotate(30 723.6 929.5)"/>
<ellipse class="l" cx="703.0" cy="941.5" rx="11.6" ry="20.0"  transform="rotate(30 703.0 941.5)"/>
<ellipse cx="703.0" cy="941.5" rx="11.30" ry="19.70" fill="#fff" transform="rotate(30 703.0 941.5)"/>
<path class="l" style="stroke-width:1" d="M733.7 915.4L724.0 909.8"/>
<path class="l" style="stroke-width:1" d="M734.6 914.2L724.9 908.6"/>
<path class="l" style="stroke-width:1" d="M754.3 903.4L744.6 897.8"/>
<path class="l" style="stroke-width:1" d="M755.2 902.2L745.5 896.6"/>
<path class="l" style="stroke-width:1" d="M774.9 891.4L765.2 885.8"/>
<path class="l" style="stroke-width:1" d="M775.8 890.2L766.1 884.6"/>
<path class="l" style="stroke-width:1" d="M795.5 879.4L785.8 873.8"/>
<path class="l" style="stroke-width:1" d="M796.4 878.2L786.7 872.6"/>
<path class="l" style="stroke-width:1" d="M816.1 867.4L806.4 861.8"/>
<path class="l" style="stroke-width:1" d="M817.0 866.2L807.3 860.6"/>
<path class="l" style="stroke-width:.9" d="M714.2 925.1L705.0 919.8"/>
<ellipse class="l" cx="703.0" cy="941.5" rx="10.7" ry="18.6" style="stroke-width:.8" transform="rotate(30 703.0 941.5)"/>
<ellipse class="l" cx="703.0" cy="941.5" rx="9.7" ry="17.1" style="stroke-width:.8" transform="rotate(30 703.0 941.5)"/>
<ellipse class="l" cx="826.6" cy="869.5" rx="7.8" ry="13.4"  transform="rotate(30 826.6 869.5)"/>
<ellipse class="l" cx="806.0" cy="881.5" rx="7.8" ry="13.4"  transform="rotate(30 806.0 881.5)"/>
<ellipse class="l" cx="785.4" cy="893.5" rx="7.8" ry="13.4"  transform="rotate(30 785.4 893.5)"/>
<ellipse class="l" cx="764.8" cy="905.5" rx="7.8" ry="13.4"  transform="rotate(30 764.8 905.5)"/>
<ellipse class="l" cx="744.2" cy="917.5" rx="7.8" ry="13.4"  transform="rotate(30 744.2 917.5)"/>
<ellipse class="l" cx="723.6" cy="929.5" rx="7.8" ry="13.4"  transform="rotate(30 723.6 929.5)"/>
<ellipse class="l" cx="703.0" cy="941.5" rx="7.8" ry="13.4"  transform="rotate(30 703.0 941.5)"/>
<path class="l" style="stroke-width:.9" d="M505.7 842.4L537.9 861.3M505.7 884.9L537.9 903.7"/>
<path d="M511.2 811V913.1" stroke="#555" stroke-width="1" fill="none"/>
<path class="k" d="M511.2 845.6L508.7 832.2H513.7ZM511.2 888L508.7 902.1H513.7Z"/>
<path class="l" style="stroke-width:.9" d="M748.9 779.3L793.7 751.8M842.4 826.4L885.6 802.1M789 754.9L880.9 804.4"/>
<path class="k" d="M789 754.9L802.9 758.8L800.5 763.2ZM880.9 804.4L867 800.5L869.4 796.1Z"/>
<path class="l" style="stroke-width:.9" d="M652.5 1003.6L686 1022.6M865.2 880.9L898.2 899.8M680 1018.6L891.1 897.5"/>
<path class="k" d="M680 1018.6L691.6 1008.2L694.4 1013.1ZM891.1 897.5L876.7 900.7L879.5 905.6Z"/>
</g>
<g id="hvlcs-y" transform="translate(1110 395) scale(0.157143)">
<!-- plug pins -->
<path class="w" vector-effect="non-scaling-stroke" d="M690 338L840 258L895 290V385L775 455L700 440Z"/>
<path class="l" vector-effect="non-scaling-stroke" d="M895 290L760 368M768 400L890 333M772 422L890 355"/>
<path class="l" vector-effect="non-scaling-stroke" style="stroke-width:1.6" d="M782 448L892 385"/>
<!-- neck -->
<path class="w" vector-effect="non-scaling-stroke" d="M560 405L690 335C740 345 775 400 770 465L700 515Z"/>
<path class="l" vector-effect="non-scaling-stroke" d="M690 335C715 340 745 390 745 470M575 405L625 393L632 412L585 422Z"/>
<!-- body -->
<path vector-effect="non-scaling-stroke" d="M95 582L440 372Q462 360 485 372L650 470C700 505 720 560 705 610Q700 622 690 627L300 852L120 780Z" fill="#fff"/>
<path class="l" vector-effect="non-scaling-stroke" d="M95 582L440 372Q462 360 485 372L650 470C700 505 720 560 705 610Q700 622 690 627L300 852"/>
<path class="l" vector-effect="non-scaling-stroke" d="M180 610L400 480M215 655L445 520M400 432V490L445 520Q500 516 545 503L400 432L468 392M545 503L640 460"/>
<path class="l" vector-effect="non-scaling-stroke" d="M408 740L465 708L475 722L418 755Z"/>
<!-- sockets -->
<ellipse class="w" vector-effect="non-scaling-stroke" cx="120" cy="678" rx="61" ry="107" transform="rotate(-30 120 678)"/>
<ellipse class="l" vector-effect="non-scaling-stroke" cx="124" cy="678" rx="47" ry="85" transform="rotate(-30 124 678)" style="stroke-width:1.3"/>
<ellipse class="w" vector-effect="non-scaling-stroke" cx="265" cy="758" rx="61" ry="107" transform="rotate(-30 265 758)"/>
<ellipse class="l" vector-effect="non-scaling-stroke" cx="269" cy="758" rx="47" ry="85" transform="rotate(-30 269 758)" style="stroke-width:1.3"/>
<!-- dims -->
<path class="l" vector-effect="non-scaling-stroke" style="stroke-width:.9" d="M285 855L490 975M965 460L1175 580M455 950L1140 565M1030 325L1175 410M1140 395V565M790 165L995 45M1130 350L1315 230M965 65L1285 245"/>
<path class="k" d="M455 950L520 895L540 928ZM1140 565L1055 590L1075 623ZM1140 395L1124 480H1156ZM1140 565L1124 480H1156ZM965 65L1045 85L1028 117ZM1285 245L1205 225L1222 193Z"/>
</g>

<g id="hvlcs-t" transform="translate(1120 560) scale(0.169625)">
<!-- base block -->
<path class="w" vector-effect="non-scaling-stroke" d="M410 680L515 620L742 535L858 605V775L775 820V765L750 752V830L680 870L660 860V885L570 937L540 920V838L470 795Q448 790 445 808V865L410 845Z"/>
<path class="l" vector-effect="non-scaling-stroke" d="M410 680L570 770L858 605M570 770V937"/>
<path class="l" vector-effect="non-scaling-stroke" d="M460 800L482 796L532 842V872L490 850L462 822ZM490 850V815"/>
<path class="l" vector-effect="non-scaling-stroke" d="M585 880L610 868L615 890L590 902ZM815 745L840 735L845 760L820 770Z"/>
<!-- clip -->
<path class="w" vector-effect="non-scaling-stroke" d="M665 705L750 665V830L680 870L665 860Z"/>
<path class="l" vector-effect="non-scaling-stroke" style="stroke-width:1.5" d="M665 705L750 665M670 720V840M660 830V860M745 680V740M742 760V800L750 810"/>
<path class="l" vector-effect="non-scaling-stroke" d="M680 720V870M735 690V745L748 752M750 750L770 760"/>
<!-- cylinder -->
<path class="w" vector-effect="non-scaling-stroke" d="M530 325V655C540 735 735 735 742 660V325Z" style="stroke:none"/>
<path class="l" vector-effect="non-scaling-stroke" d="M530 325V655C540 735 735 735 742 660V325"/>
<ellipse class="w" vector-effect="non-scaling-stroke" cx="636" cy="325" rx="106" ry="60"/>
<ellipse class="l" vector-effect="non-scaling-stroke" cx="640" cy="330" rx="85" ry="45" style="stroke-width:1.2"/>
<path class="l" vector-effect="non-scaling-stroke" d="M698 435L715 430V495L698 500Z"/>
<!-- dims -->
<path class="l" vector-effect="non-scaling-stroke" style="stroke-width:.9" d="M700 185L890 75M880 285L1065 180M865 95L1030 195M880 315L1070 425M880 780L1070 890M1040 415V865M580 945L770 1060M745 1040L1040 870"/>
<path class="k" d="M865 95L940 118L925 145ZM1030 195L955 172L970 145ZM1040 415L1026 495H1054ZM1040 865L1026 785H1054ZM745 1040L810 985L828 1015ZM1040 870L960 895L978 925Z"/>
</g>

<g id="hvlcs-h" transform="translate(1180 760) scale(0.151803)">
<!-- body -->
<path class="w" vector-effect="non-scaling-stroke" d="M165 470V670Q168 705 215 715V722C290 765 440 745 460 668V470Z"/>
<path class="l" vector-effect="non-scaling-stroke" d="M215 515V720M198 512V708M185 500V690" />
<!-- flange -->
<path class="w" vector-effect="non-scaling-stroke" d="M137 418V440C150 575 475 575 487 440V418Z"/>
<ellipse class="w" vector-effect="non-scaling-stroke" cx="312" cy="418" rx="175" ry="103"/>
<ellipse class="l" vector-effect="non-scaling-stroke" cx="312" cy="415" rx="90" ry="52"/>
<!-- dims -->
<path class="l" vector-effect="non-scaling-stroke" style="stroke-width:.9" d="M335 270L550 145M555 400L770 275M525 165L730 290M555 430L770 550M555 740L770 865M738 540V840M320 820L578 972M548 948L738 845"/>
<path class="k" d="M525 165L605 188L590 216ZM730 290L650 267L665 239ZM738 540L724 620H752ZM738 840L724 760H752ZM548 948L615 895L632 925ZM738 845L655 872L672 902Z"/>
</g>

<g id="hvlcs-b" transform="translate(1180 940) scale(0.0803859)">
<g fill="#c6c6c6" stroke="#222" stroke-width="1.35" stroke-linejoin="round" stroke-linecap="round">
<!-- back flange -->
<path vector-effect="non-scaling-stroke" d="M640 178C760 170 900 300 970 470C1030 620 1020 740 960 790L760 600Z"/>
<path vector-effect="non-scaling-stroke" fill="none" d="M700 195C800 215 900 330 950 480C985 590 985 690 965 745M735 230C820 270 890 370 925 480C955 580 960 670 945 720"/>
<!-- nut silhouette -->
<path vector-effect="non-scaling-stroke" d="M250 400C280 320 330 270 380 232L470 140L650 178C720 230 755 290 770 345L960 770L770 1015L700 990C620 980 560 940 545 900L300 640Z"/>
<!-- front chamfer -->
<path vector-effect="non-scaling-stroke" fill="none" d="M380 240C500 225 680 300 770 420C835 560 850 760 800 905L765 1010"/>
<path vector-effect="non-scaling-stroke" fill="none" d="M770 345V420M832 760L960 770"/>
<path vector-effect="non-scaling-stroke" fill="none" d="M455 172C520 290 670 345 765 305M770 385C790 560 860 700 955 755"/>
<!-- hole -->
<path vector-effect="non-scaling-stroke" fill="#fff" d="M300 430C340 380 450 340 540 380C650 440 740 600 745 720L560 900L250 640Z"/>
</g>
<g fill="#fff" stroke="#222" stroke-width="1.35" stroke-linejoin="round" stroke-linecap="round">
<!-- threaded plug -->
<path vector-effect="non-scaling-stroke" d="M190 560C200 480 280 455 340 500L400 385C470 360 540 380 600 440C680 530 730 640 725 735L545 800C560 860 520 930 450 940C330 930 230 800 190 640Z"/>
<path vector-effect="non-scaling-stroke" fill="none" d="M345 500C430 540 520 680 545 800M300 440C400 420 500 470 560 560M360 410C450 400 540 450 600 540M430 470C520 520 590 640 610 770M480 440C570 500 640 620 660 755M545 420C620 480 690 600 705 740"/>
<path vector-effect="non-scaling-stroke" fill="none" d="M215 625L560 440M245 590C260 540 300 515 340 530M240 640C240 760 330 880 450 905C500 900 530 860 525 810"/>
<path vector-effect="non-scaling-stroke" fill="none" d="M540 805L720 735M555 835L722 765M545 870L600 850"/>
<path vector-effect="non-scaling-stroke" fill="none" style="stroke-width:.8" d="M580 820L600 870M610 810L632 860M640 798L662 846M670 786L690 830M700 775L715 812"/>
</g>
</g>

<g id="labels">
<text class="t" x="336.25" y="40.9" font-size="19.42" textLength="59.3" lengthAdjust="spacingAndGlyphs">HVLCS V</text>
<text class="t" x="117.3" y="82.4" font-size="19.42" textLength="68.06" lengthAdjust="spacingAndGlyphs">HVLCS 43</text>
<text class="t" x="288.0" y="127.4" font-size="19.42" textLength="68.84" lengthAdjust="spacingAndGlyphs">HVLCS 46</text>
<text class="t" x="63.5" y="148.4" font-size="19.42" textLength="68.36" lengthAdjust="spacingAndGlyphs">HVLCS 42</text>
<text class="t" x="492.8" y="173.2" font-size="19.42" textLength="27.31" lengthAdjust="spacingAndGlyphs">CSK</text>
<text class="t" x="-1.4" y="278.6" font-size="19.42" textLength="41.03" lengthAdjust="spacingAndGlyphs">CS 44</text>
<text class="t" x="-2.4" y="332.0" font-size="19.42" textLength="42.08" lengthAdjust="spacingAndGlyphs">CS 43</text>
<text class="t" x="-2.4" y="386.7" font-size="19.42" textLength="42.08" lengthAdjust="spacingAndGlyphs">CS 42</text>
<text class="t" x="158.6" y="381.8" font-size="19.28" textLength="19.89" lengthAdjust="spacingAndGlyphs">30</text>
<text class="t" x="1140.1" y="123.0" font-size="19.42" textLength="68.66" lengthAdjust="spacingAndGlyphs">HVLCS 46</text>
<text class="t" x="1140.0" y="190.0" font-size="19.42" textLength="44.28" lengthAdjust="spacingAndGlyphs">CS 46</text>
<text class="t" x="1161.1" y="426.6" font-size="21.45" textLength="57.35" lengthAdjust="spacingAndGlyphs">Stecker</text>
<text class="t" x="1061.0" y="533.0" font-size="21.16" textLength="66.66" lengthAdjust="spacingAndGlyphs">Buchsen</text>
<text class="t" x="1132.9" y="621.9" font-size="21.3" textLength="57.82" lengthAdjust="spacingAndGlyphs">Buchse</text>
<text class="t" x="257.7" y="235.5" font-size="23.04" textLength="19.6" lengthAdjust="spacingAndGlyphs">IN</text>
<text class="t" x="423.3" y="233.6" font-size="21.74" textLength="35.06" lengthAdjust="spacingAndGlyphs">OUT</text>
<text class="t" x="559.7" y="235.7" font-size="23.33" textLength="18.36" lengthAdjust="spacingAndGlyphs">IN</text>
<text class="t" x="944.4" y="233.6" font-size="21.74" textLength="34.88" lengthAdjust="spacingAndGlyphs">OUT</text>
<text class="t" x="1140.2" y="235.5" font-size="23.19" textLength="19.25" lengthAdjust="spacingAndGlyphs">IN</text>
<text class="t" x="1305.7" y="233.6" font-size="21.74" textLength="35.03" lengthAdjust="spacingAndGlyphs">OUT</text>
<text class="tb" x="2.2" y="567.9" font-size="28.41" textLength="149.55" lengthAdjust="spacingAndGlyphs">HVLCS-Buchse</text>
<text class="tb" x="2.2" y="726.4" font-size="28.55" textLength="149.63" lengthAdjust="spacingAndGlyphs">HVLCS-Stecker</text>
<text class="tb" x="4.9" y="909.7" font-size="28.55" textLength="107.84" lengthAdjust="spacingAndGlyphs">CS-Buchse</text>
<text class="tb" x="3.1" y="1095.0" font-size="28.41" textLength="108.63" lengthAdjust="spacingAndGlyphs">CS-Stecker</text>
<text class="tb" x="937.2" y="435.4" font-size="28.99" textLength="88.88" lengthAdjust="spacingAndGlyphs">HVLCS Y</text>
<text class="tb" x="933.9" y="678.9" font-size="28.84" textLength="86.15" lengthAdjust="spacingAndGlyphs">HVLCS T</text>
<text class="tb" x="933.9" y="819.6" font-size="28.84" textLength="91.53" lengthAdjust="spacingAndGlyphs">HVLCS H</text>
<text class="tb" x="933.9" y="971.4" font-size="28.99" textLength="89.38" lengthAdjust="spacingAndGlyphs">HVLCS B</text>
</g>
<g id="dims">
<g transform="matrix(0.866 -0.5 0 1 255.8 417.92)">
<text class="td" x="-12.43" y="9.29" font-size="25.94" textLength="24.86" lengthAdjust="spacingAndGlyphs">51</text>
<rect x="1.34" y="7.20" width="4.13" height="2.74" fill="#fff"/>
<rect x="7.74" y="7.20" width="4.14" height="2.74" fill="#fff"/>
</g>
<g transform="matrix(0.866 0.5 -0.866 0.5 281.05 539.15)">
<text class="td" x="-17.43" y="9.31" font-size="26.0" textLength="34.86" lengthAdjust="spacingAndGlyphs">ø10</text>
<rect x="-3.86" y="7.22" width="3.72" height="2.74" fill="#fff"/>
<rect x="1.95" y="7.22" width="3.75" height="2.74" fill="#fff"/>
</g>
<g transform="matrix(0.866 0.5 -0.866 0.5 209.2 636.4)">
<text class="td" x="-21.70" y="9.31" font-size="26.0" textLength="43.41" lengthAdjust="spacingAndGlyphs">ø7,5</text>
</g>
<g transform="matrix(0.866 -0.5 0 1 301.37 696.34)">
<text class="td" x="-11.90" y="9.86" font-size="27.54" textLength="23.81" lengthAdjust="spacingAndGlyphs">33</text>
</g>
<g transform="matrix(0.866 -0.5 0 1 367.96 869.47)">
<text class="td" x="-12.30" y="9.76" font-size="27.27" textLength="24.6" lengthAdjust="spacingAndGlyphs">30</text>
</g>
<g transform="matrix(0.866 -0.5 0 1 364.92 1071.38)">
<text class="td" x="-12.17" y="10.02" font-size="28" textLength="24.34" lengthAdjust="spacingAndGlyphs">30</text>
</g>
<g transform="matrix(0 -1 0.866 0.5 498.04 861.4)">
<text class="td" x="-11.78" y="10.00" font-size="27.93" textLength="23.56" lengthAdjust="spacingAndGlyphs">16</text>
<rect x="-10.51" y="7.76" width="3.91" height="2.89" fill="#fff"/>
<rect x="-4.43" y="7.76" width="3.92" height="2.89" fill="#fff"/>
</g>
<g transform="matrix(0.866 0.5 -0.866 0.5 847.98 770.03)">
<text class="td" x="-22.25" y="9.31" font-size="26.0" textLength="44.51" lengthAdjust="spacingAndGlyphs">42,5</text>
</g>
<g transform="matrix(0.866 -0.5 0 1 801.5 965.34)">
<text class="td" x="-11.90" y="10.02" font-size="28" textLength="23.8" lengthAdjust="spacingAndGlyphs">92</text>
</g>
<g transform="matrix(0.866 0.5 -0.866 0.5 1299.67 410.55)">
<text class="td" x="-11.82" y="9.31" font-size="26.0" textLength="23.65" lengthAdjust="spacingAndGlyphs">19</text>
<rect x="-10.55" y="7.22" width="3.92" height="2.74" fill="#fff"/>
<rect x="-4.45" y="7.22" width="3.94" height="2.74" fill="#fff"/>
</g>
<g transform="matrix(0.866 -0.5 0 1 1309.01 463.38)">
<text class="td" x="-12.35" y="8.91" font-size="24.88" textLength="24.69" lengthAdjust="spacingAndGlyphs">10</text>
<rect x="-11.01" y="6.90" width="4.10" height="2.66" fill="#fff"/>
<rect x="-4.65" y="6.90" width="4.11" height="2.66" fill="#fff"/>
</g>
<g transform="matrix(0.866 -0.5 0 1 1256.88 523.52)">
<text class="td" x="-21.01" y="9.40" font-size="26.26" textLength="42.02" lengthAdjust="spacingAndGlyphs">44,5</text>
</g>
<g transform="matrix(0.866 0.5 -0.866 0.5 1294.66 573.55)">
<text class="td" x="-13.68" y="9.31" font-size="26.0" textLength="27.36" lengthAdjust="spacingAndGlyphs">11</text>
<rect x="-12.20" y="7.22" width="4.56" height="2.74" fill="#fff"/>
<rect x="-5.17" y="7.22" width="4.56" height="2.74" fill="#fff"/>
<rect x="1.48" y="7.22" width="4.56" height="2.74" fill="#fff"/>
<rect x="8.51" y="7.22" width="4.56" height="2.74" fill="#fff"/>
</g>
<g transform="matrix(0.866 -0.5 0 1 1311.88 663.18)">
<text class="td" x="-12.51" y="8.77" font-size="24.5" textLength="25.02" lengthAdjust="spacingAndGlyphs">29</text>
</g>
<g transform="matrix(0.866 -0.5 0 1 1284.59 730.4)">
<text class="td" x="-12.01" y="9.36" font-size="26.14" textLength="24.01" lengthAdjust="spacingAndGlyphs">20</text>
</g>
<g transform="matrix(0.866 0.5 -0.866 0.5 1289.53 783.76)">
<text class="td" x="-17.95" y="9.31" font-size="26.0" textLength="35.9" lengthAdjust="spacingAndGlyphs">ø17</text>
<rect x="-3.97" y="7.22" width="3.84" height="2.74" fill="#fff"/>
<rect x="2.01" y="7.22" width="3.86" height="2.74" fill="#fff"/>
</g>
<g transform="matrix(0.866 -0.5 0 1 1308.22 855.98)">
<text class="td" x="-12.43" y="9.04" font-size="25.26" textLength="24.86" lengthAdjust="spacingAndGlyphs">21</text>
<rect x="1.34" y="7.01" width="4.13" height="2.69" fill="#fff"/>
<rect x="7.74" y="7.01" width="4.14" height="2.69" fill="#fff"/>
</g>
<g transform="matrix(0.866 -0.5 0 1 1286.55 908.62)">
<text class="td" x="-12.42" y="8.77" font-size="24.51" textLength="24.84" lengthAdjust="spacingAndGlyphs">13</text>
<rect x="-11.08" y="6.79" width="4.13" height="2.63" fill="#fff"/>
<rect x="-4.68" y="6.79" width="4.14" height="2.63" fill="#fff"/>
</g>
</g>
</svg>
</body></html>
